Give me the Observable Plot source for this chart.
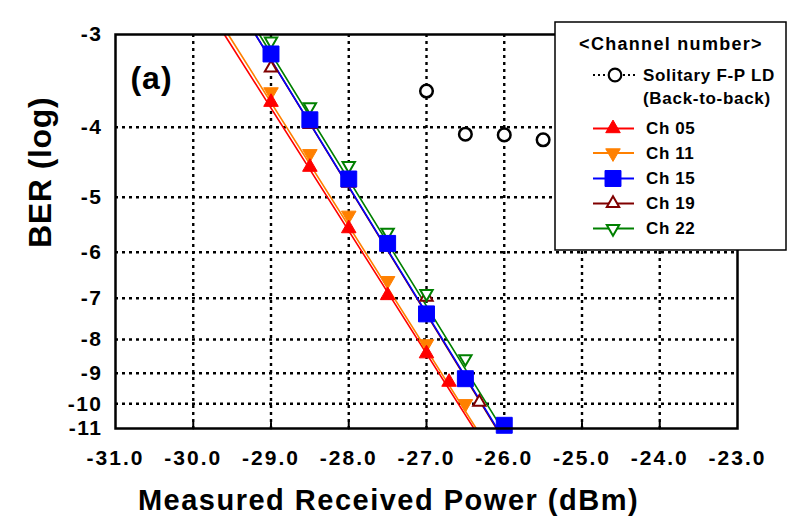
<!DOCTYPE html>
<html>
<head>
<meta charset="utf-8">
<script src="https://cdn.jsdelivr.net/npm/d3@7"></script>
<script src="https://cdn.jsdelivr.net/npm/@observablehq/plot@0.6"></script>
<style>
  body { margin: 0; background: white; }
  svg { display: block; }
  .xtick text { letter-spacing: 2px; }
  .ytick text { letter-spacing: 1.5px; }
  .xtitle text { letter-spacing: 1.5px; }
  .ytitle text { letter-spacing: 0.6px; }
  .panel text { letter-spacing: 1px; }
</style>
</head>
<body>
<div id="chart"></div>
<script>
// ---- data ----
const xTicks = [-31, -30, -29, -28, -27, -26, -25, -24, -23];
const yTicks = [-3, -4, -5, -6, -7, -8, -9, -10, -11];

const solitaryX = [-27, -26.5, -26, -25.5];
const solitaryY = [-3.61, -4.10, -4.11, -4.18];

const ch05X = [-29, -28.5, -28, -27.5, -27, -26.71];
const ch05Y = [-3.73, -4.57, -5.57, -6.94, -8.42, -9.29];
const ch11X = [-29, -28.5, -28, -27.5, -27, -26.5];
const ch11Y = [-3.62, -4.38, -5.33, -6.62, -8.13, -10.0];
const ch15X = [-29, -28.5, -28, -27.5, -27, -26.5, -26];
const ch15Y = [-3.21, -3.92, -4.74, -5.84, -7.38, -9.18, -10.87];
const ch19X = [-29, -28.5, -28, -27.5, -27, -26.32];
const ch19Y = [-3.36, -3.97, -4.80, -5.90, -6.98, -9.95];
const ch22X = [-29, -28.5, -28, -27.5, -27, -26.5];
const ch22Y = [-3.07, -3.78, -4.55, -5.64, -6.90, -8.57];

// fitted lines: x at BER 1e-3 and 1e-11
const fitY = [-3, -11];
const ch05FitX = [-29.60, -26.39];
const ch11FitX = [-29.55, -26.36];
const ch15FitX = [-29.20, -26.09];
const ch19FitX = [-29.20, -26.10];
const ch22FitX = [-29.15, -26.03];

const seriesNames = ["Ch 05", "Ch 11", "Ch 15", "Ch 19", "Ch 22"];
const legendTitle = "<Channel number>";
const solitaryLabel = ["Solitary F-P LD", "(Back-to-back)"];

// ---- styling ----
const FONT = "'Liberation Sans', Arial, sans-serif";
const series = [
  {name: seriesNames[0], xs: ch05X, ys: ch05Y, fit: ch05FitX, color: "#ff0000", symbol: "triangle", rotate: 0, filled: true, r: 5.4},
  {name: seriesNames[1], xs: ch11X, ys: ch11Y, fit: ch11FitX, color: "#ff8000", symbol: "triangle", rotate: 180, filled: true, r: 5.4},
  {name: seriesNames[2], xs: ch15X, ys: ch15Y, fit: ch15FitX, color: "#0000ff", symbol: "square", rotate: 0, filled: true, r: 9},
  {name: seriesNames[3], xs: ch19X, ys: ch19Y, fit: ch19FitX, color: "#800000", symbol: "triangle", rotate: 0, filled: false, r: 4.6},
  {name: seriesNames[4], xs: ch22X, ys: ch22Y, fit: ch22FitX, color: "#008000", symbol: "triangle", rotate: 180, filled: false, r: 4.6}
];
const drawOrder = [3, 4, 1, 0, 2];

const tickShape = {draw(context, l) { context.moveTo(0, 0); context.lineTo(0, -l); }};
const gridStyle = {stroke: "black", strokeOpacity: 1, strokeWidth: 2.4, strokeDasharray: "3,4"};

const lineMarks = drawOrder.map(i => {
  const s = series[i];
  return Plot.line(s.fit.map((x, k) => ({x, y: fitY[k]})), {x: "x", y: "y", stroke: s.color, strokeWidth: 1.6, clip: true});
});
const dotMarks = drawOrder.map(i => {
  const s = series[i];
  return Plot.dot(s.xs.map((x, k) => ({x, y: s.ys[k]})), {
    x: "x", y: "y", symbol: s.symbol, r: s.r, rotate: s.rotate,
    fill: s.filled ? s.color : "white", stroke: s.color, strokeWidth: s.filled ? 1 : 2
  });
});

const chart = Plot.plot({
  width: 794,
  height: 529,
  marginLeft: 115,
  marginRight: 57,
  marginTop: 34,
  marginBottom: 101,
  style: {fontFamily: FONT, background: "white", overflow: "visible"},
  x: {domain: [-31, -23]},
  y: {type: "linear", domain: yTicks, range: [34, 126.7, 196.7, 251.7, 297.7, 339, 372.7, 403.3, 428]},
  marks: [
    Plot.gridX(xTicks.slice(1, -1), gridStyle),
    Plot.gridY(yTicks.slice(1, -1), gridStyle),
    Plot.vector(xTicks.slice(1, -1), {x: d => d, y: -11, length: 6, rotate: 0, anchor: "start", shape: tickShape, stroke: "black", strokeWidth: 2}),
    Plot.axisX(xTicks, {tickSize: 0, tickPadding: 22, tickFormat: d => d.toFixed(1), fontSize: 21, fontWeight: "bold", fill: "black", label: null, className: "xtick"}),
    Plot.axisY(yTicks, {tickSize: 0, tickPadding: 13, tickFormat: d => String(d), fontSize: 21, fontWeight: "bold", fill: "black", label: null, className: "ytick"}),
    ...lineMarks,
    Plot.dot(solitaryX.map((x, k) => ({x, y: solitaryY[k]})), {x: "x", y: "y", r: 6.3, fill: "white", stroke: "black", strokeWidth: 2.5}),
    ...dotMarks,
    Plot.frame({stroke: "black", strokeWidth: 2.5}),
    Plot.text(["(a)"], {frameAnchor: "top-left", dx: 36, dy: 32, text: d => d, fontSize: 32, fontWeight: "bold", fill: "black", textAnchor: "middle", className: "panel"}),
    Plot.text(["Measured Received Power (dBm)"], {frameAnchor: "bottom", dx: -38, dy: 81, text: d => d, fontSize: 29, fontWeight: "bold", fill: "black", className: "xtitle"}),
    Plot.text(["BER (log)"], {frameAnchor: "left", dx: -74.5, dy: 16.5, rotate: -90, text: d => d, fontSize: 32, fontWeight: "bold", fill: "black", className: "ytitle"})
  ]
});

// ---- legend box (inside the plot, top right) ----
const svg = d3.select(chart);
const lg = svg.append("g").attr("font-family", FONT).attr("font-weight", "bold")
  .attr("fill", "black").attr("text-anchor", "start");
lg.append("rect").attr("x", 555).attr("y", 22).attr("width", 231).attr("height", 228)
  .attr("fill", "white").attr("stroke", "black").attr("stroke-width", 1.5);
lg.append("text").attr("x", 671).attr("y", 43.5).attr("dy", "0.35em").attr("text-anchor", "middle")
  .attr("font-size", 18).style("letter-spacing", "1.3px").text(legendTitle);

// solitary entry
lg.append("line").attr("x1", 593).attr("x2", 637).attr("y1", 75).attr("y2", 75)
  .attr("stroke", "black").attr("stroke-width", 2).attr("stroke-dasharray", "2,3");
lg.append("circle").attr("cx", 615).attr("cy", 75).attr("r", 6.3)
  .attr("fill", "white").attr("stroke", "black").attr("stroke-width", 2.2);
solitaryLabel.forEach((t, k) => {
  lg.append("text").attr("x", 643).attr("y", 75 + k * 23.5).attr("dy", "0.35em")
    .attr("text-anchor", "start")
    .attr("font-size", 17).style("letter-spacing", "0.7px").text(t);
});

const symType = {triangle: d3.symbolTriangle, square: d3.symbolSquare};
const legendY = [128.5, 153, 178.5, 203.5, 228.5];
series.forEach((s, k) => {
  const y = legendY[k];
  lg.append("line").attr("x1", 593).attr("x2", 634).attr("y1", y).attr("y2", y)
    .attr("stroke", s.color).attr("stroke-width", 2);
  lg.append("path")
    .attr("d", d3.symbol(symType[s.symbol], Math.PI * s.r * s.r)())
    .attr("transform", `translate(613,${y}) rotate(${s.rotate})`)
    .attr("fill", s.filled ? s.color : "white").attr("stroke", s.color)
    .attr("stroke-width", s.filled ? 1 : 2);
  lg.append("text").attr("x", 646).attr("y", y).attr("dy", "0.35em")
    .attr("text-anchor", "start")
    .attr("font-size", 17).style("letter-spacing", "0.6px").text(s.name);
});

document.getElementById("chart").appendChild(chart);
</script>
</body>
</html>
